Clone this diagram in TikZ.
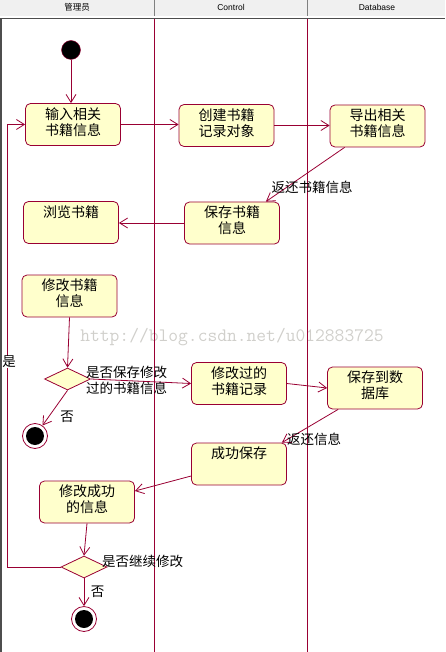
\documentclass[tikz,border=0pt]{standalone}
\usepackage{fontspec}
\usepackage{tikz}
\usetikzlibrary{arrows.meta,shapes.geometric}
\newfontfamily\cjk{Noto Sans CJK SC}
\setsansfont{Liberation Sans}
\definecolor{umlred}{HTML}{990033}
\definecolor{umlfill}{HTML}{FFFFCC}
\definecolor{hdrfill}{HTML}{F0F0F0}
\definecolor{hdrline}{HTML}{808080}
\definecolor{wmgray}{HTML}{D0CFCB}
\newcommand{\cjkfont}{\cjk\fontsize{13.5}{16}\selectfont}
\begin{document}
\begin{tikzpicture}[x=1pt,y=-1pt,
  act/.style={draw=umlred, fill=umlfill, line width=0.8pt, rounded corners=5pt,
    minimum width=95pt, minimum height=42pt, inner sep=1pt, align=center, text depth=6.5pt,
    font=\cjk\fontsize{14}{16}\selectfont},
  decide/.style={diamond, draw=umlred, fill=umlfill, line width=0.8pt,
    minimum width=46pt, minimum height=22pt, inner sep=0pt},
  startnode/.style={circle, draw=umlred, fill=black, minimum size=19pt, inner sep=0pt},
  endnode/.style={circle, draw=umlred, fill=white, line width=0.8pt, minimum size=25pt, inner sep=0pt,
    path picture={\fill[black] (path picture bounding box.center) circle (9pt);}},
  flow/.style={draw=umlred, line width=0.8pt, -{Straight Barb[length=8pt,width=10pt]}},
  lane/.style={draw=umlred, line width=0.9pt},
  lbl/.style={font=\cjkfont, inner sep=0pt},
  hdr/.style={font=\sffamily\fontsize{8.5}{9}\selectfont, inner sep=0pt}]
\useasboundingbox (0,0) rectangle (445,652);
% header:
\fill[hdrfill] (0,0) rectangle (445,16);
\draw[hdrline] (154,0) -- (154,16);
\draw[hdrline] (307,0) -- (307,16);
\node[hdr, font=\cjk\fontsize{8.5}{9}\selectfont] (h1) at (77,7) {管理员};
\node[hdr] (h2) at (231,7) {Control};
\node[hdr] (h3) at (377,7) {Database};
\draw[hdrline!60!black, line width=1.5pt] (1.2,652) -- (1.2,18.5) -- (445,18.5);
% watermark:
\node[text=wmgray, font=\ttfamily\fontsize{19}{19}\selectfont, inner sep=0pt] (wm) at (232,337) {http://blog.csdn.net/u012883725};
% lanes:
\draw[lane] (154,19) -- (154,652);
\draw[lane] (307,19) -- (307,652);
% activities:
\node[startnode] (start) at (71,50) {};
\node[act] (A) at (73,124.5) {输入相关\\书籍信息};
\node[act] (B) at (226.5,125.5) {创建书籍\\记录对象};
\node[act] (C) at (377.5,126) {导出相关\\书籍信息};
\node[act] (D) at (232,223) {保存书籍\\信息};
\node[act] (E) at (71,222.5) {浏览书籍\\\strut};
\node[act] (F) at (69.5,296) {修改书籍\\信息};
\node[decide] (d1) at (67.5,379) {};
\node[endnode] (end1) at (35,436) {};
\node[act] (G) at (239,383.5) {修改过的\\书籍记录};
\node[act] (H) at (375,388) {保存到数\\据库};
\node[act] (I) at (239,464) {成功保存\\\strut};
\node[act] (J) at (87,502) {修改成功\\的信息};
\node[decide] (d2) at (84,567) {};
\node[endnode] (end2) at (84,619) {};
\coordinate (loop) at (7,567);
% flows:
\draw[flow] (start) -- (start |- A.north);
\draw[flow] (A.east) -- (A.east -| B.west);
\draw[flow] (B.east) -- (B.east -| C.west);
\draw[flow] ([xshift=15pt]C.south west) -- ([xshift=-14pt]D.north east);
\draw[flow] (D.west) -- (D.west -| E.east);
\draw[flow] (F.south) -- (d1.north);
\draw[flow] (d1.east) -- (G.west);
\draw[flow] (d1.south) -- (end1);
\draw[flow] (G.east) -- (H.west);
\draw[flow] ([xshift=11pt]H.south west) -- ([xshift=-5pt]I.north east);
\draw[flow] ([yshift=-12pt]I.west) -- ([yshift=11pt]J.east);
\draw[flow] (J.south) -- (d2.north);
\draw[flow] (d2.south) -- (end2);
\draw[flow] (d2.west) -- (loop) |- (A.west);
% labels:
\node[lbl] (l1) at (312,187) {返还书籍信息};
\node[lbl, anchor=west, align=left, font=\cjk\fontsize{13.5}{15.5}\selectfont] (l2) at (86,380.5) {是否保存修改\\过的书籍信息};
\node[lbl] (l3) at (67,417) {否};
\node[lbl, anchor=west] (l4) at (287,439) {返还信息};
\node[lbl, anchor=west] (l5) at (102,561) {是否继续修改};
\node[lbl] (l6) at (97.5,592) {否};
\node[lbl, fill=white] (l7) at (9,362) {是};
\end{tikzpicture}
\end{document}
